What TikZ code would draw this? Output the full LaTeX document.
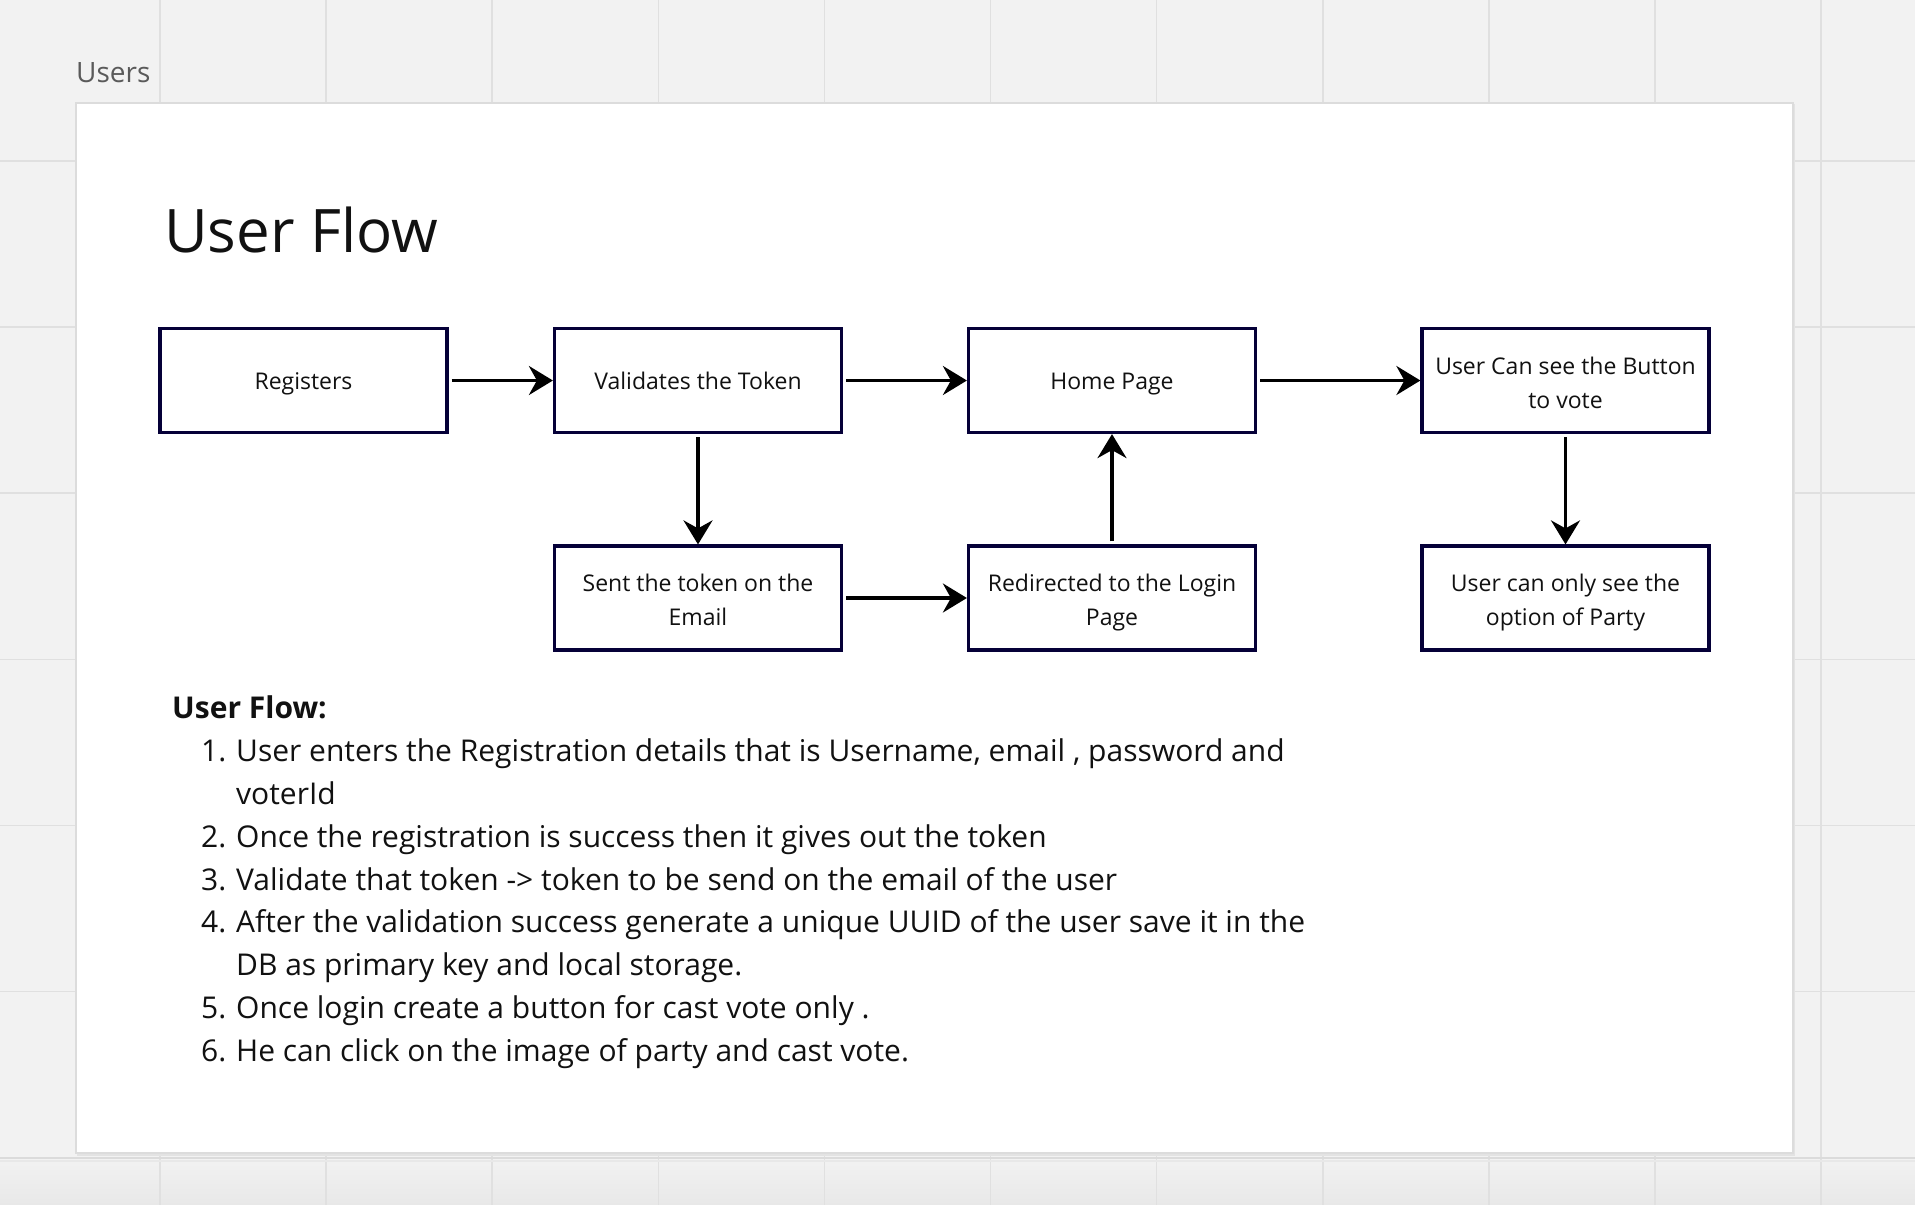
\documentclass[tikz,border=0pt]{standalone}
\usepackage{fontspec}
\setmainfont{Open Sans}
\usetikzlibrary{arrows.meta}
\definecolor{canvas}{HTML}{F2F2F2}
\definecolor{gridc}{HTML}{E0E0E0}
\definecolor{panelb}{HTML}{DCDCDC}
\definecolor{navy}{HTML}{050038}
\definecolor{labelgray}{HTML}{5A5A5A}
\definecolor{ink}{HTML}{111111}
\begin{document}
\begin{tikzpicture}[x=1pt,y=-1pt,
  box/.style={draw=navy, line width=3.2pt, fill=white, minimum width=287pt, minimum height=104pt, inner sep=0pt, font=\fontsize{23}{34}\selectfont, align=center, text=ink, text height=18.8pt, text depth=0pt},
  twoline/.style={text height=55.4pt, text depth=0pt},
  flow/.style={line width=3.4pt, draw=black, -{Stealth[length=24pt,width=29pt,inset=8pt]}, shorten <=3pt},
  listtxt/.style={anchor=base west, inner sep=0pt, font=\fontsize{30}{42}\selectfont, text=ink},
  gridline/.style={draw=gridc, line width=1.6pt}
]
\useasboundingbox (0,0) rectangle (1915,1205);
% canvas
\fill[canvas] (0,0) rectangle (1915,1205);
\shade[top color=canvas, bottom color=black!9] (0,1158) rectangle (1915,1205);
\foreach \i in {0,...,10} \draw[gridline] ({160+166.1*\i},0) -- ({160+166.1*\i},1205);
\foreach \j in {0,...,5} \draw[gridline] (0,{161+166.1*\j}) -- (1915,{161+166.1*\j});
\draw[draw=black!14, line width=2pt] (0,1157.5) -- (1915,1157.5);
\draw[draw=black!9, line width=1.2pt] (0,1161) -- (1915,1161);
% panel
\fill[black!11] (77,104) rectangle (1795,1156);
\draw[draw=panelb, line width=2pt, fill=white] (76,103) rectangle (1793,1153);
\node[anchor=base west, inner sep=0pt, text=labelgray, font=\fontsize{28}{32}\selectfont] (users) at (76,82) {Users};
\node[anchor=base west, inner sep=0pt, text=ink, font=\fontsize{60}{70}\selectfont] (title) at (164,252) {User Flow};
% boxes
\node[box] (reg)   at (303.5,380.5) {Registers};
\node[box] (val)   at (698,380.5)   {Validates the Token};
\node[box] (home)  at (1112,380.5)  {Home Page};
\node[box, twoline] (ucan)  at (1565.5,380.5) {User Can see the Button\\to vote};
\node[box, twoline] (sent)  at (698,598)     {Sent the token on the\\Email};
\node[box, twoline] (redir) at (1112,598)    {Redirected to the Login\\Page};
\node[box, twoline] (uonly) at (1565.5,598)  {User can only see the\\option of Party};
% connectors
\draw[flow] (reg.east) -- (val.west);
\draw[flow] (val.east) -- (home.west);
\draw[flow] (home.east) -- (ucan.west);
\draw[flow] (val.south) -- (sent.north);
\draw[flow] (sent.east) -- (redir.west);
\draw[flow] (redir.north) -- (home.south);
\draw[flow] (ucan.south) -- (uonly.north);
% list
\node[listtxt, font=\fontsize{30}{42}\selectfont\bfseries] (lh) at (172,718) {User Flow:};
\node[listtxt] (n1) at (201,761) {1.};
\node[listtxt] (t1) at (236,761) {User enters the Registration details that is Username, email , password and};
\node[listtxt] (t1b) at (236,804) {voterId};
\node[listtxt] (n2) at (201,847) {2.};
\node[listtxt] (t2) at (236,847) {Once the registration is success then it gives out the token};
\node[listtxt] (n3) at (201,890) {3.};
\node[listtxt] (t3) at (236,890) {Validate that token -> token to be send on the email of the user};
\node[listtxt] (n4) at (201,932) {4.};
\node[listtxt] (t4) at (236,932) {After the validation success generate a unique UUID of the user save it in the};
\node[listtxt] (t4b) at (236,975) {DB as primary key and local storage.};
\node[listtxt] (n5) at (201,1018) {5.};
\node[listtxt] (t5) at (236,1018) {Once login create a button for cast vote only .};
\node[listtxt] (n6) at (201,1061) {6.};
\node[listtxt] (t6) at (236,1061) {He can click on the image of party and cast vote.};
\end{tikzpicture}
\end{document}
